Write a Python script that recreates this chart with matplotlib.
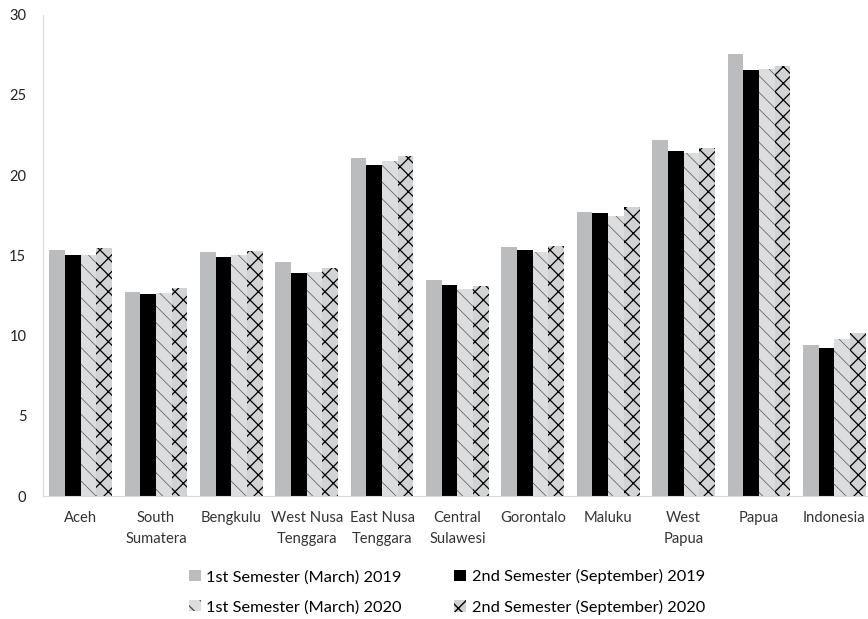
import matplotlib.pyplot as plt
import numpy as np

plt.rcParams['font.family'] = ['Lato', 'DejaVu Sans']

regions = ["Aceh", "South\nSumatera", "Bengkulu", "West Nusa\nTenggara", "East Nusa\nTenggara",
           "Central\nSulawesi", "Gorontalo", "Maluku", "West\nPapua", "Papua", "Indonesia"]
labels = ["1st Semester (March) 2019", "2nd Semester (September) 2019",
          "1st Semester (March) 2020", "2nd Semester (September) 2020"]
mar_2019 = [15.32, 12.71, 15.23, 14.56, 21.09, 13.48, 15.52, 17.69, 22.17, 27.53, 9.41]
sep_2019 = [15.01, 12.56, 14.91, 13.88, 20.62, 13.18, 15.31, 17.65, 21.51, 26.55, 9.22]
mar_2020 = [14.99, 12.66, 15.03, 13.97, 20.90, 12.92, 15.22, 17.44, 21.37, 26.64, 9.78]
sep_2020 = [15.43, 12.98, 15.30, 14.23, 21.21, 13.06, 15.59, 17.99, 21.70, 26.80, 10.19]

fig = plt.figure(figsize=(8.68, 6.19), dpi=100)
ax = fig.add_axes([0.0495, 0.1987, 0.955, 0.7776])

x = np.arange(len(regions))
w = 0.208
series = [mar_2019, sep_2019, mar_2020, sep_2020]
styles = [
    dict(color="#bbbcbe", hatch=None, edgecolor="#bbbcbe", hlw=1.0),
    dict(color="#000000", hatch=None, edgecolor="#000000", hlw=1.0),
    dict(color="#dcdddf", hatch="\\\\", edgecolor="#555555", hlw=0.5),
    dict(color="#d2d3d5", hatch="xx", edgecolor="#000000", hlw=0.9),
]
handles = []
for i, (vals, st, lab) in enumerate(zip(series, styles, labels)):
    with plt.rc_context({'hatch.linewidth': st["hlw"]}):
        b = ax.bar(x + (i - 1.5) * w, vals, w, color=st["color"], hatch=st["hatch"],
                   edgecolor=st["edgecolor"], linewidth=0, label=lab)
    handles.append(b)

ax.set_xlim(-0.5, len(regions) - 0.5)
ax.set_ylim(0, 30)
ax.set_yticks(range(0, 31, 5))
ax.set_xticks(x)
ax.set_xticklabels(regions, fontsize=10.6, color="#333333", linespacing=1.65)
ax.tick_params(axis="y", length=0, pad=12, labelsize=10.5, labelcolor="#222222")
ax.tick_params(axis="x", length=0, pad=11)
for s in ["top", "right"]:
    ax.spines[s].set_visible(False)
ax.spines["left"].set_color("#d9d9d9")
ax.spines["bottom"].set_color("#d9d9d9")

# row-major legend order: matplotlib fills columns first
order = [0, 2, 1, 3]
fig.legend([handles[k] for k in order], [labels[k] for k in order],
           loc="center", bbox_to_anchor=(0.515, 0.0436), ncol=2, frameon=False,
           fontsize=11.8, handlelength=0.7, handleheight=0.7, handletextpad=0.35,
           columnspacing=3.2, labelspacing=0.95)

fig.savefig("out.png", dpi=100)
